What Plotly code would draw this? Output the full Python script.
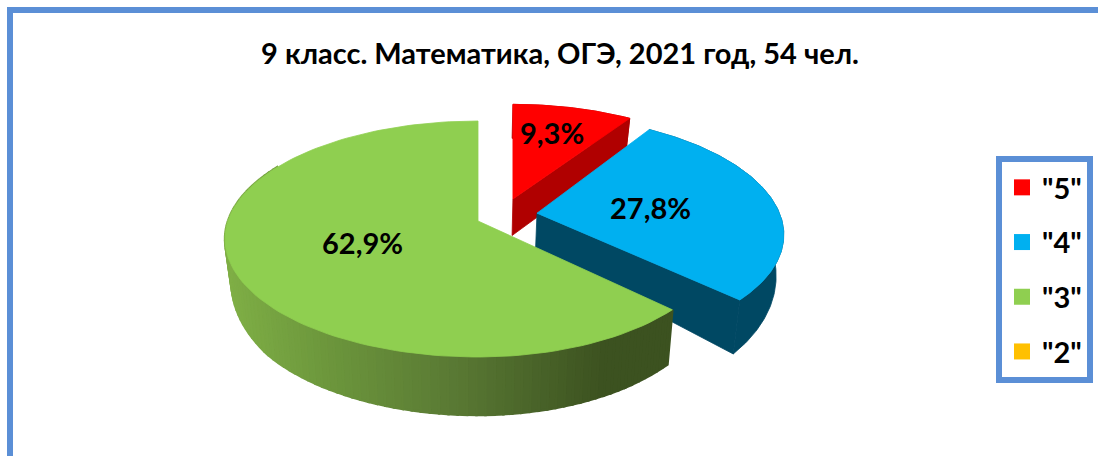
import numpy as np
import plotly.graph_objects as go

title = "9 класс. Математика, ОГЭ, 2021 год, 54 чел."
categories = ['"5"', '"4"', '"3"', '"2"']
shares = [9.3, 27.8, 62.9, 0.0]
top_colors = ["#FF0000", "#00B0F0", "#8FCF50", "#FFC000"]
side_colors = ["#B00000", "#004863", None, None]

# Pie geometry (pixel-like axes)
CX, CY, RX, RY, PERSP = 478, 221, 250, 115.25, 0.1525
explode = [(0.144, -0.197), (0.2385, -0.0687), (0.0, 0.0), (0.0, 0.0)]
right_scale = [0.98, 0.98, 0.96, 1.0]
lean = [0.0, 1.0, 1.0, 1.0]
FONT = "Lato"
FRAME = "#5B8FD6"


def project(u, v, ou, ov, i):
    """Local disk coordinates (u, v) of slice i to screen position."""
    d0 = 1 - PERSP * ov
    d = 1 - PERSP * (v + ov)
    ax = CX + RX * ou / d0
    su = np.where(u > 0, right_scale[i], 1.0)
    x = ax + su * RX * (u / d + lean[i] * ou * (1 / d - 1 / d0))
    y = CY + RY * (v + ov) / d
    return x, y


def lower(x, y):
    depth = np.interp(y, [120, 213, 300, 357], [34, 37, 54, 58])
    return CX + (x - CX) * 0.975, y + depth


def poly(fig, x, y, color, lw=0.8):
    fig.add_trace(go.Scatter(
        x=list(x), y=list(y), mode="lines", fill="toself", fillcolor=color,
        line=dict(color=color, width=lw), hoverinfo="skip", showlegend=False))


def mix(x):
    stops_x = [225, 330, 450, 600, 680]
    r = np.interp(x, stops_x, [128, 108, 90, 60, 60])
    g = np.interp(x, stops_x, [176, 150, 122, 82, 82])
    b = np.interp(x, stops_x, [70, 60, 52, 32, 32])
    return f"rgb({r:.0f},{g:.0f},{b:.0f})"


fig = go.Figure()
cum = 0.0
spans = []
for s in shares:
    spans.append((cum * 3.6, (cum + s) * 3.6))
    cum += s

# red, blue, green, back to front
for i in range(3):
    a0, a1 = spans[i]
    ou, ov = explode[i]
    ax, ay = project(np.array(0.0), np.array(0.0), ou, ov, i)
    ax, ay = float(ax), float(ay)
    t = np.radians(np.linspace(a0, a1, 120))
    tx, ty = project(np.sin(t), -np.cos(t), ou, ov, i)
    bx, by = lower(tx, ty)
    abx, aby = lower(np.array([ax]), np.array([ay]))
    if side_colors[i]:
        # cut face at the end of the slice
        poly(fig, [ax, tx[-1], bx[-1], abx[0], ax], [ay, ty[-1], by[-1], aby[0], ay], side_colors[i])
        # outer rim
        poly(fig, np.r_[tx, bx[::-1], tx[0]], np.r_[ty, by[::-1], ty[0]], side_colors[i])
    else:
        mt = np.radians(np.linspace(a0, min(a1, 300), 90))
        qx, qy = project(np.sin(mt), -np.cos(mt), ou, ov, i)
        px, py = lower(qx, qy)
        for k in range(len(qx) - 1):
            poly(fig, [qx[k], qx[k + 1], px[k + 1], px[k], qx[k]],
                 [qy[k], qy[k + 1], py[k + 1], py[k], qy[k]], mix((px[k] + px[k + 1]) / 2), lw=2.5)
    poly(fig, np.r_[ax, tx, ax], np.r_[ay, ty, ay], top_colors[i])

# legend entries
for i, c in enumerate(categories):
    fig.add_trace(go.Scatter(
        x=[None], y=[None], mode="markers", name=c, legendgroup=c,
        marker=dict(symbol="square", size=18, color=top_colors[i])))

# data labels
label_pos = [(552, 132), (650, 207), (362, 242)]
for (x, y), s in zip(label_pos, shares):
    fig.add_annotation(x=x, y=y, text=f"<b>{s:.1f}%</b>".replace(".", ","), showarrow=False,
                       font=dict(family=FONT, size=29, color="#000000"))

fig.update_layout(
    width=1098, height=456, autosize=False,
    margin=dict(l=0, r=0, t=0, b=0),
    paper_bgcolor="white", plot_bgcolor="white",
    title=dict(text=f"<b>{title}</b>", x=560 / 1098, xanchor="center", y=1 - 54 / 456, yanchor="middle",
               font=dict(family=FONT, size=29, color="#000000")),
    xaxis=dict(range=[0, 1098], visible=False, fixedrange=True),
    yaxis=dict(range=[456, 0], visible=False, fixedrange=True),
    legend=dict(x=996 / 1098, y=1 - 156 / 456, xanchor="left", yanchor="top",
                bgcolor="white", bordercolor=FRAME, borderwidth=6,
                tracegroupgap=14, itemwidth=30,
                font=dict(family=FONT, size=29, color="#000000", weight="bold"),
                traceorder="grouped"),
    shapes=[dict(type="path", xref="x", yref="y", layer="above",
                 path="M 10 480 L 10 10 L 1120 10",
                 line=dict(color=FRAME, width=6))],
)
fig.write_html("out.html", post_script="document.body.style.margin='0';",
               config=dict(displayModeBar=False))
